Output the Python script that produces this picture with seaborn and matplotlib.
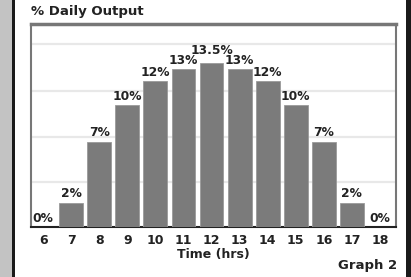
import numpy as np
import pandas as pd
import matplotlib.pyplot as plt
import seaborn as sns

hours = ['6', '7', '8', '9', '10', '11', '12', '13', '14', '15', '16', '17', '18']
output_pct = [0, 2, 7, 10, 12, 13, 13.5, 13, 12, 10, 7, 2, 0]
pct_labels = ['0%', '2%', '7%', '10%', '12%', '13%', '13.5%', '13%', '12%', '10%', '7%', '2%', '0%']
grid_levels = [3.72, 7.44, 11.2, 15.05]

sns.set_theme(style='white')
plt.rcParams['font.family'] = ['DejaVu Sans']

df = pd.DataFrame({'hour': hours, 'pct': output_pct})

fig = plt.figure(figsize=(4.11, 2.77), dpi=100)
fig.patch.set_facecolor('white')

# side decorations of the page
fig.add_artist(plt.Rectangle((0, 0), 12 / 411, 1, transform=fig.transFigure,
                             color='#c3c3c3', lw=0))
fig.add_artist(plt.Rectangle((12 / 411, 0), 3 / 411, 1, transform=fig.transFigure,
                             color='#1a1a1a', lw=0))
fig.add_artist(plt.Rectangle((406 / 411, 0), 5 / 411, 1, transform=fig.transFigure,
                             color='#1a1a1a', lw=0))

ax = fig.add_axes([31 / 411, 1 - 227 / 277, 365 / 411, 203 / 277])
sns.barplot(data=df, x='hour', y='pct', color='#7b7b7b', saturation=1,
            width=0.85, edgecolor='#9a9a9a', linewidth=0.6, ax=ax, zorder=3)

for g in grid_levels:
    ax.axhline(g, color='#e8e8e8', lw=1.6, zorder=1)

for i, (v, lab) in enumerate(zip(output_pct, pct_labels)):
    dy = 0.45 if lab == '13.5%' else 0.2
    ax.text(i, v + dy, lab, ha='center', va='bottom', fontsize=8.8,
            fontweight='bold', color='#222222', zorder=4)

ax.set_xlim(-0.43, 12.57)
ax.set_ylim(0, 16.7)
ax.set_yticks([])
ax.set_xlabel('Time (hrs)', fontsize=9, fontweight='bold', color='#222222', labelpad=1)
ax.set_ylabel('')
ax.tick_params(axis='x', length=0, pad=5, labelsize=9, colors='#222222')
for t in ax.get_xticklabels():
    t.set_fontweight('bold')

ax.spines['top'].set_color('#777777')
ax.spines['top'].set_linewidth(2.5)
ax.spines['left'].set_color('#777777')
ax.spines['left'].set_linewidth(1.5)
ax.spines['right'].set_color('#777777')
ax.spines['right'].set_linewidth(1.5)
ax.spines['bottom'].set_color('#222222')
ax.spines['bottom'].set_linewidth(1.5)

fig.text(31 / 411, 1 - 12 / 277, '% Daily Output', ha='left', va='center',
         fontsize=9.5, fontweight='bold', color='#222222')
fig.text(397 / 411, 1 - 265 / 277, 'Graph 2', ha='right', va='center',
         fontsize=9.5, fontweight='bold', color='#222222')

fig.savefig('out.png', dpi=100)
